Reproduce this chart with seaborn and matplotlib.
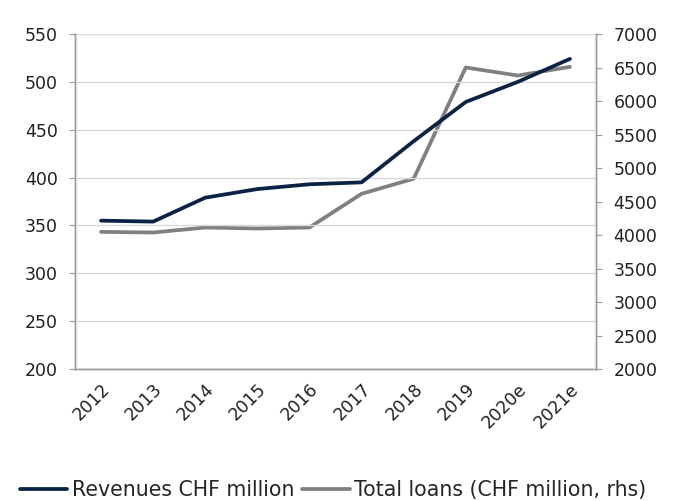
import matplotlib
matplotlib.use("Agg")
import matplotlib.pyplot as plt
import matplotlib.transforms as mtransforms
import seaborn as sns
import pandas as pd
import numpy as np
from matplotlib.ticker import FixedLocator

years = ["2012", "2013", "2014", "2015", "2016", "2017", "2018", "2019", "2020e", "2021e"]
revenues = [355, 354, 379, 388, 393, 395, 438, 479, 500, 524]
loans = [4047, 4037, 4112, 4097, 4112, 4615, 4840, 6500, 6380, 6510]

sns.set_style("white")
plt.rcParams['font.family'] = ['DejaVu Sans']

navy = "#0a2244"
gray = "#808080"
axcol = "#9a9a9a"

df = pd.DataFrame({"x": np.arange(len(years)), "rev": revenues, "loans": loans})

fig = plt.figure(figsize=(6.8, 5.01), dpi=100)
ax = fig.add_axes([75/680, 1 - 369/501, (596-75)/680, (369-34)/501])
ax2 = ax.twinx()

sns.lineplot(data=df, x="x", y="rev", ax=ax, color=navy, linewidth=2.7,
             label="Revenues CHF million", legend=False)
sns.lineplot(data=df, x="x", y="loans", ax=ax2, color=gray, linewidth=2.7,
             label="Total loans (CHF million, rhs)", legend=False)
ax.set_zorder(ax2.get_zorder() + 1)
ax.patch.set_visible(False)

ax.set_xlim(-0.5, len(years) - 0.5)
ax.set_ylim(200, 550)
ax2.set_ylim(2000, 7000)
ax.set_yticks(np.arange(200, 551, 50))
ax2.set_yticks(np.arange(2000, 7001, 500))
ax.set_xticks(np.arange(len(years)))
ax.set_xticklabels(years, rotation=45, ha="right", rotation_mode="anchor")
ax.xaxis.set_minor_locator(FixedLocator(np.arange(-0.5, len(years), 1.0)))
ax.set_xlabel("")
ax.set_ylabel("")
ax2.set_ylabel("")

offset = mtransforms.ScaledTranslation(-6/100, -1/100, fig.dpi_scale_trans)
for lbl in ax.get_xticklabels():
    lbl.set_transform(lbl.get_transform() + offset)

ax.grid(axis="y", color="#d9d9d9", linewidth=1.0)
ax.set_axisbelow(True)

for a in (ax, ax2):
    for s in a.spines.values():
        s.set_color(axcol)
        s.set_linewidth(1.0)
    a.spines["top"].set_visible(False)

ax.tick_params(axis="x", which="major", length=0, labelsize=12.5, pad=8, colors="#222222")
ax.tick_params(axis="x", which="minor", length=5, color=axcol, width=1)
ax.tick_params(axis="y", length=4.5, color=axcol, labelsize=12.5, labelcolor="#222222", pad=8)
ax2.tick_params(axis="y", length=4.5, color=axcol, labelsize=12.5, labelcolor="#222222", pad=8)

h1, l1 = ax.get_legend_handles_labels()
h2, l2 = ax2.get_legend_handles_labels()
fig.legend(h1 + h2, l1 + l2, loc="center", bbox_to_anchor=(333/680, 1 - 490/501),
           ncol=2, frameon=False, fontsize=14.8, handlelength=2.3, handletextpad=0.2,
           columnspacing=0.4)

fig.savefig("out.png", dpi=100)
